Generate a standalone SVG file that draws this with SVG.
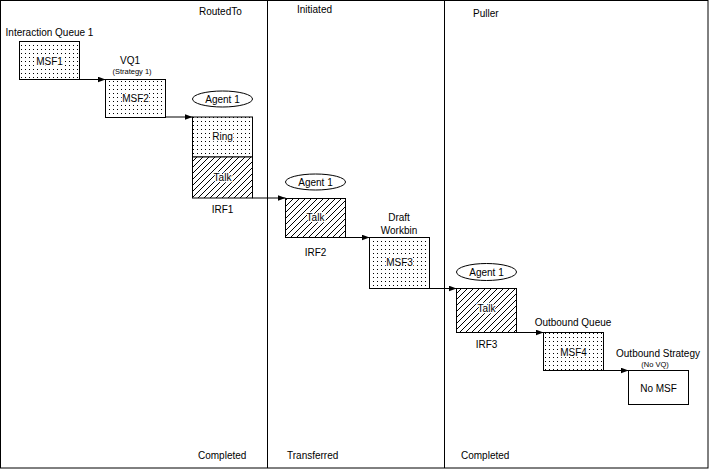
<svg xmlns="http://www.w3.org/2000/svg" width="709" height="469" viewBox="0 0 709 469">
<defs>
<pattern id="dots" width="4" height="4" patternUnits="userSpaceOnUse"><rect width="4" height="4" fill="#fff"/><rect x="1" y="1" width="1" height="1" fill="#000"/></pattern>
<pattern id="hatch" width="6" height="6" patternUnits="userSpaceOnUse"><rect width="6" height="6" fill="#fff"/><path d="M0,6 L6,0 M-1,1 L1,-1 M5,7 L7,5" stroke="#000" stroke-width="1" shape-rendering="crispEdges"/></pattern>
<marker id="arr" markerWidth="9" markerHeight="7" refX="8" refY="3" orient="auto" markerUnits="userSpaceOnUse"><path d="M0,0 L8,3 L0,6 z" fill="#000"/></marker>
</defs>
<style>
text{font-family:"Liberation Sans",Arial,sans-serif;font-size:10px;fill:#000}
.c{text-anchor:middle}
.s{font-size:7.5px}
.k{paint-order:stroke;stroke:#fff;stroke-width:2.5px;stroke-linejoin:round}
.box{stroke:#000;stroke-width:1}
.d{fill:url(#dots)}
.h{fill:url(#hatch)}
.w{fill:#fff}
.el{fill:#fff;stroke:#000;stroke-width:1}
.ln{stroke:#000;stroke-width:1;fill:none}
.con{stroke:#000;stroke-width:1;fill:none;marker-end:url(#arr)}
</style>
<rect x="0" y="0" width="709" height="469" fill="#fff"/>
<g id="frame">
<rect x="0.5" y="0.5" width="707.5" height="467.5" class="ln"/>
<line x1="267.5" y1="0" x2="267.5" y2="468" class="ln"/>
<line x1="444.5" y1="0" x2="444.5" y2="468" class="ln"/>
<text x="199" y="15">RoutedTo</text>
<text x="297" y="13">Initiated</text>
<text x="473" y="17">Puller</text>
<text x="198" y="459">Completed</text>
<text x="287" y="459">Transferred</text>
<text x="461" y="459">Completed</text>
</g>
<g id="connectors">
<line x1="79.5" y1="79.5" x2="105.5" y2="79.5" class="con"/>
<line x1="165.5" y1="117" x2="192.5" y2="117" class="con"/>
<line x1="252.5" y1="198" x2="285.5" y2="198" class="con"/>
<line x1="345.5" y1="237.5" x2="369.5" y2="237.5" class="con"/>
<line x1="429.5" y1="288.5" x2="456.5" y2="288.5" class="con"/>
<line x1="516.5" y1="332.5" x2="543.5" y2="332.5" class="con"/>
<line x1="603.5" y1="370.5" x2="628.5" y2="370.5" class="con"/>
</g>
<g id="msf1">
<text x="49.5" y="35.5" class="c">Interaction Queue 1</text>
<rect x="19.5" y="41.5" width="60" height="38" class="box d"/>
<text x="49.5" y="65" class="c k">MSF1</text>
</g>
<g id="msf2">
<text x="130" y="64" class="c">VQ1</text>
<text x="132" y="74" class="c s">(Strategy 1)</text>
<rect x="105.5" y="79.5" width="60" height="38" class="box d"/>
<text x="135.5" y="102" class="c k">MSF2</text>
</g>
<g id="irf1">
<ellipse cx="222.5" cy="99" rx="30" ry="8" class="el"/>
<text x="222.5" y="102.5" class="c">Agent 1</text>
<rect x="192.5" y="117" width="60" height="40" class="box d"/>
<text x="222.5" y="140" class="c k">Ring</text>
<rect x="192.5" y="157" width="60" height="41" class="box h"/>
<text x="222.5" y="180.5" class="c k">Talk</text>
<text x="222.5" y="213" class="c">IRF1</text>
</g>
<g id="irf2">
<ellipse cx="315.5" cy="182" rx="30" ry="8" class="el"/>
<text x="315.5" y="185.5" class="c">Agent 1</text>
<rect x="285.5" y="198.5" width="60" height="39" class="box h"/>
<text x="315.5" y="220.5" class="c k">Talk</text>
<text x="315.5" y="255.5" class="c">IRF2</text>
</g>
<g id="msf3">
<text x="399" y="221" class="c">Draft</text>
<text x="399" y="234" class="c">Workbin</text>
<rect x="369.5" y="237.5" width="60" height="51" class="box d"/>
<text x="399.5" y="265.5" class="c k">MSF3</text>
</g>
<g id="irf3">
<ellipse cx="486.5" cy="272" rx="30" ry="8.5" class="el"/>
<text x="486.5" y="275.5" class="c">Agent 1</text>
<rect x="456.5" y="288.5" width="60" height="44" class="box h"/>
<text x="486.5" y="312" class="c k">Talk</text>
<text x="486.5" y="347.5" class="c">IRF3</text>
</g>
<g id="msf4">
<text x="573" y="326" class="c">Outbound Queue</text>
<rect x="543.5" y="332.5" width="60" height="38" class="box d"/>
<text x="573.5" y="355.5" class="c k">MSF4</text>
</g>
<g id="nomsf">
<text x="658" y="357" class="c">Outbound Strategy</text>
<text x="655" y="367" class="c s">(No VQ)</text>
<rect x="628.5" y="370.5" width="60" height="34" class="box w"/>
<text x="658.5" y="391.5" class="c">No MSF</text>
</g>
</svg>
